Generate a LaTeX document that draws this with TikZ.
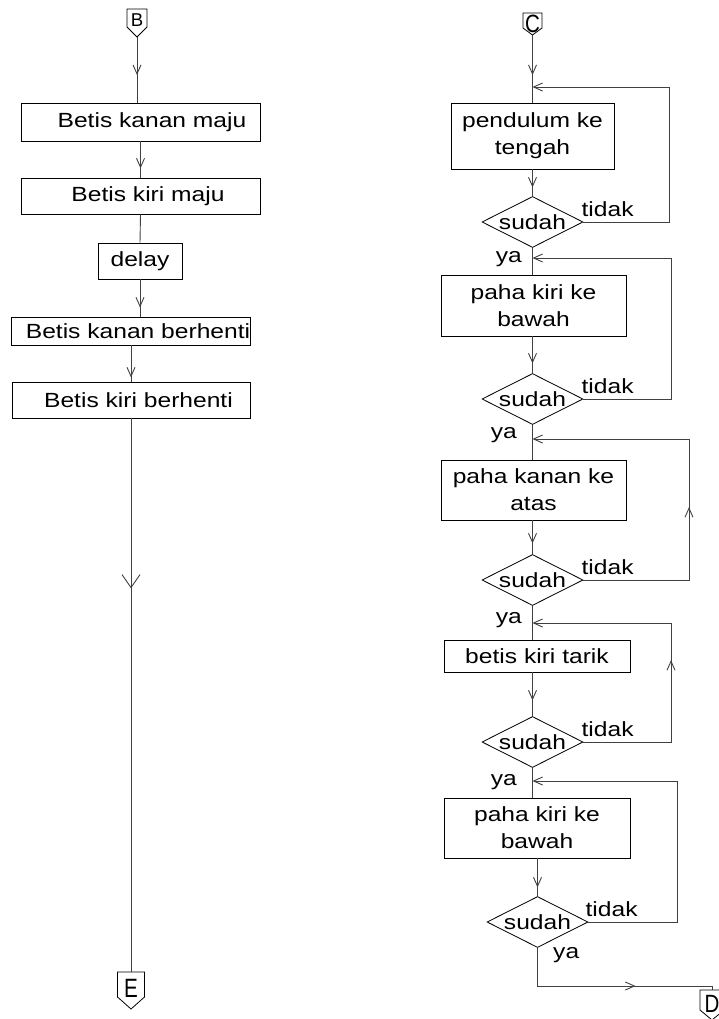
\documentclass[tikz,border=0pt]{standalone}
\usepackage{graphicx}
\usepackage{fontspec}
\setmainfont{Liberation Sans}[FakeStretch=1.2]
\newfontfamily\connfont{Liberation Sans}
\usetikzlibrary{arrows.meta,decorations.markings,shapes.geometric,calc}
\tikzset{
  every node/.style={inner sep=0pt},
  txt/.style={font=\fontsize{20.5}{27}\selectfont},
  box/.style={draw=black, line width=0.8pt, txt, align=center, rectangle},
  dec/.style={draw=black, line width=0.8pt, diamond, minimum width=101pt, minimum height=51pt,
              label={[txt]center:#1}},
  conn/.style={draw=black!75, line width=0.9pt},
  offline/.style={draw=black, line width=0.8pt},
  arr/.style={postaction={decorate}, decoration={markings, mark=at position #1 with {\arrow{Straight Barb[length=9pt,width=8pt]}}}},
  bigarr/.style={postaction={decorate}, decoration={markings, mark=at position #1 with {\arrow{Straight Barb[length=13pt,width=18pt]}}}},
  endarr/.style={-{Straight Barb[length=9pt,width=8pt]}},
  lbl/.style={txt},
}
% name, x, y (letter centre), half width, top offset, side-bottom offset, tip offset, text
\newcommand\offpg[8]{%
  \node (#1) at (#2,#3) {#8};
  \coordinate (#1-top) at (#2,#3-#5);
  \coordinate (#1-tip) at (#2,#3+#7);
  \draw[offline] (#2-#4,#3-#5) -- (#2+#4,#3-#5) -- (#2+#4,#3+#6) -- (#2,#3+#7) -- (#2-#4,#3+#6) -- cycle;
}
\begin{document}
\begin{tikzpicture}[x=1pt,y=-1pt]
\useasboundingbox (0,0) rectangle (718,1019);

% ---------------- left column ----------------
\offpg{B}{137}{20}{10}{11}{7}{17}{\connfont\fontsize{18.6}{19}\selectfont B}
\node[box, minimum width=239pt, minimum height=38pt] (b1) at (140.5,122) {\hspace*{23pt}Betis kanan maju};
\node[box, minimum width=239pt, minimum height=36pt] (b2) at (140.5,196) {\hspace*{15pt}Betis kiri maju};
\node[box, minimum width=84pt, minimum height=36pt] (b3) at (140,261) {delay};
\node[box, minimum width=238pt, minimum height=28pt] (b4) at (131,331) {\hspace*{14pt}Betis kanan berhenti};
\node[box, minimum width=238pt, minimum height=36pt] (b5) at (131,400) {\hspace*{15pt}Betis kiri berhenti};
\offpg{E}{131}{988.5}{13.5}{16.5}{8.5}{20.5}{\connfont\fontsize{26.5}{27}\selectfont\scalebox{0.78}[1]{E}}

\draw[conn, arr=38pt] (B-tip) -- (B-tip |- b1.north);
\draw[conn, arr=27pt] (b1.south) -- (b2.north);
\draw[conn] (b2.south) -- (b3.north);
\draw[conn, arr=28pt] (b3.south) -- (b3.south |- b4.north);
\draw[conn, arr=32pt] (b4.south) -- (b5.north);
\draw[conn, bigarr=170pt] (b5.south) -- (E-top);

% ---------------- right column ----------------
\offpg{C}{532.5}{24}{9.5}{11}{4}{11}{\connfont\fontsize{25}{25}\selectfont\scalebox{0.82}[1]{C}}
\node[box, minimum width=163pt, minimum height=66pt] (r1) at (532.5,136) {pendulum ke\\tengah};
\node[dec=sudah] (d1) at (532.5,222) {};
\node[box, minimum width=185pt, minimum height=61pt] (r2) at (533.5,305.5) {paha kiri ke\\bawah};
\node[dec=sudah] (d2) at (532.5,399) {};
\node[box, minimum width=185pt, minimum height=60pt] (r3) at (533.5,490) {paha kanan ke\\atas};
\node[dec=sudah] (d3) at (532.5,580) {};
\node[box, minimum width=186pt, minimum height=32pt] (r4) at (537,656) {betis kiri tarik};
\node[dec=sudah] (d4) at (532.5,742) {};
\node[box, minimum width=186pt, minimum height=60pt] (r5) at (537,828) {paha kiri ke\\bawah};
\node[dec=sudah] (d5) at (537.5,922) {};
\offpg{D}{712}{1004}{12}{14}{6}{16}{\connfont\fontsize{25}{25}\selectfont\scalebox{0.82}[1]{D}}

\coordinate (e1) at (532.5,87);
\coordinate (e2) at (532.5,258);
\coordinate (e3) at (532.5,439);
\coordinate (e4) at (532.5,623);
\coordinate (e5) at (532.5,781);

\draw[conn, arr=40pt] (C-tip) -- (r1.north);
\draw[conn, arr=18pt] (r1.south) -- (d1.north);
\draw[conn] (d1.south) -- (d1.south |- r2.north);
\draw[conn, arr=27pt] (d2.north |- r2.south) -- (d2.north);
\draw[conn] (d2.south) -- (d2.south |- r3.north);
\draw[conn, arr=23pt] (d3.north |- r3.south) -- (d3.north);
\draw[conn] (d3.south) -- (d3.south |- r4.north);
\draw[conn, arr=28pt] (d4.north |- r4.south) -- (d4.north);
\draw[conn] (d4.south) -- (d4.south |- r5.north);
\draw[conn, arr=29pt] (d5.north |- r5.south) -- (d5.north);
\draw[conn, arr=136pt] (d5.south) |- ($(D-top)+(0,-4)$) -- (D-top);

% loops
\draw[conn, endarr] (d1.east) -| (669,87) -- (e1);
\draw[conn, endarr] (d2.east) -| (671,258) -- (e2);
\draw[conn, endarr, arr=178.5pt] (d3.east) -| (689,439) -- (e3);
\draw[conn, endarr, arr=169.5pt] (d4.east) -| (671,623) -- (e4);
\draw[conn, endarr] (d5.east) -| (677,781) -- (e5);

% labels
\node[lbl, anchor=base west] (t1) at ($(d1.east)+(-2,-6)$) {tidak};
\node[lbl, anchor=base west] (t2) at ($(d2.east)+(-2,-6)$) {tidak};
\node[lbl, anchor=base west] (t3) at ($(d3.east)+(-2,-6)$) {tidak};
\node[lbl, anchor=base west] (t4) at ($(d4.east)+(-2,-6)$) {tidak};
\node[lbl, anchor=base west] (t5) at ($(d5.east)+(-3,-6)$) {tidak};

\node[lbl, anchor=east] (y1) at ($(e2)+(-10.5,1)$) {ya};
\node[lbl, anchor=east] (y2) at ($(e3)+(-15.5,-4)$) {ya};
\node[lbl, anchor=east] (y3) at ($(e4)+(-10.5,-3)$) {ya};
\node[lbl, anchor=east] (y4) at ($(e5)+(-15.5,1)$) {ya};
\node[lbl, anchor=west] (y5) at ($(d5.south)+(15.5,7.5)$) {ya};
\end{tikzpicture}
\end{document}
